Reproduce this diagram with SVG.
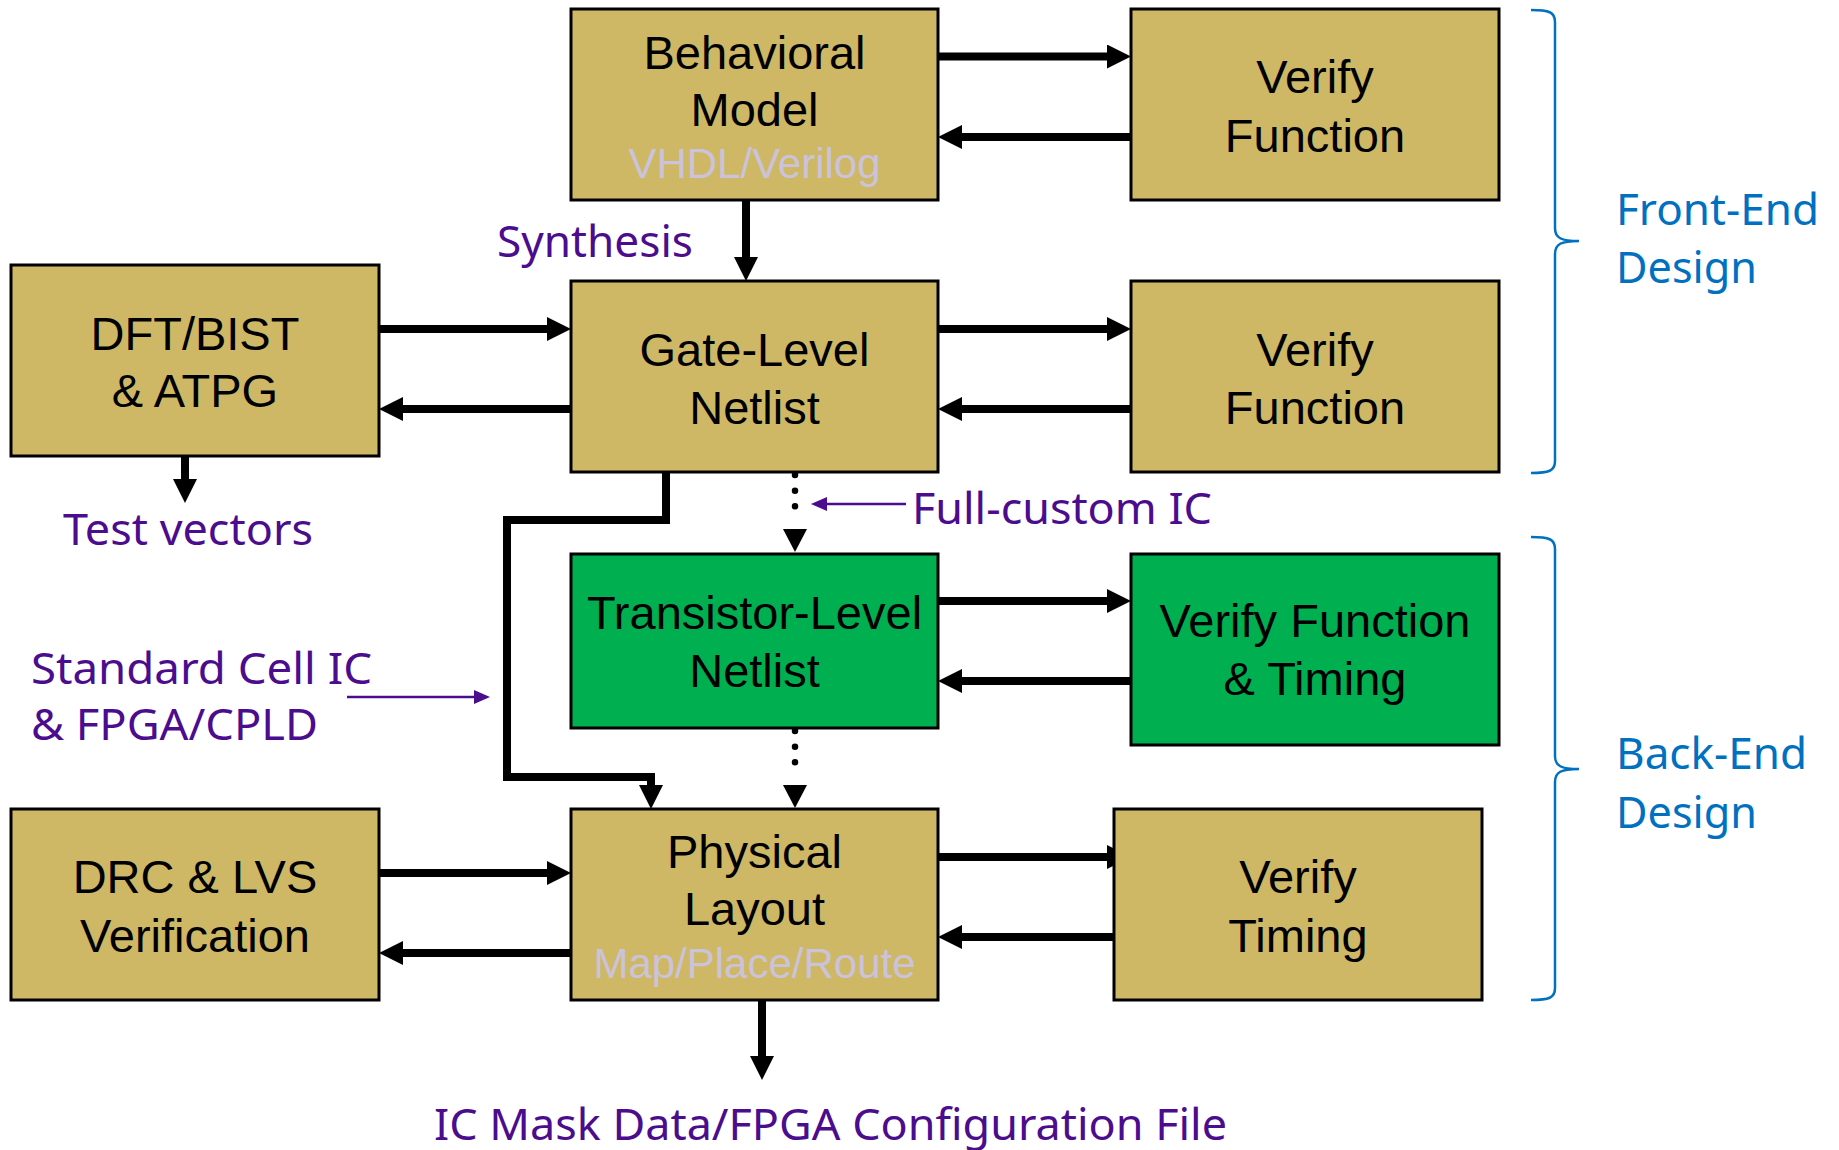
<svg xmlns="http://www.w3.org/2000/svg" width="1839" height="1150" viewBox="0 0 1839 1150">
  <style>
    .box { stroke: #000; stroke-width: 3; }
    .tan { fill: #CEB866; }
    .green { fill: #00AF50; }
    .t { font-family: "Liberation Sans", Arial, sans-serif; font-size: 47px; fill: #000; text-anchor: middle; }
    .sub { font-family: "Liberation Sans", Arial, sans-serif; font-size: 42px; fill: #CBC3DA; text-anchor: middle; }
    .note { font-family: "Noto Sans", "Open Sans", sans-serif; font-size: 44px; fill: #4B0C8E; }
    .phase { font-family: "Noto Sans", "Open Sans", sans-serif; font-size: 44px; fill: #0070C0; }
    .flow { fill: none; stroke: #000; stroke-width: 8; marker-end: url(#arrow); }
    .dots { fill: none; stroke: #000; stroke-width: 6.5; stroke-linecap: round; stroke-dasharray: 0 15.67; marker-end: url(#dotHead); }
    .thin { fill: none; stroke: #4B0C8E; stroke-width: 2.5; marker-end: url(#thinHead); }
    .brace { fill: none; stroke: #0070C0; stroke-width: 2.5; }
  </style>
  <defs>
    <marker id="arrow" markerUnits="userSpaceOnUse" markerWidth="24" markerHeight="24" refX="6" refY="12" orient="auto">
      <path d="M0,0 L24,12 L0,24 Z" fill="#000"/>
    </marker>
    <marker id="dotHead" markerUnits="userSpaceOnUse" markerWidth="23" markerHeight="24" refX="-7" refY="12" orient="auto">
      <path d="M0,0 L23,12 L0,24 Z" fill="#000"/>
    </marker>
    <marker id="thinHead" markerUnits="userSpaceOnUse" markerWidth="16" markerHeight="14" refX="12" refY="7" orient="auto">
      <path d="M0,0 L16,7 L0,14 Z" fill="#4B0C8E"/>
    </marker>
  </defs>

  <rect width="1839" height="1150" fill="#fff"/>

  <!-- connectors -->
  <g id="connectors">
    <path class="flow" d="M938,56.5 H1113"/>
    <path class="flow" d="M1131,137 H956"/>
    <path class="flow" d="M746,200 V263"/>
    <path class="flow" d="M379,329 H553"/>
    <path class="flow" d="M571,409 H397"/>
    <path class="flow" d="M938,329 H1113"/>
    <path class="flow" d="M1131,409 H956"/>
    <path class="flow" d="M185,456 V485"/>
    <path class="dots" d="M795,475 V522"/>
    <path class="flow" d="M938,601 H1113"/>
    <path class="flow" d="M1131,681 H956"/>
    <path class="dots" d="M795,731 V778"/>
    <path class="flow" d="M666,473 V520 H507 V777 H651 V791"/>
    <path class="flow" d="M379,873 H553"/>
    <path class="flow" d="M571,953 H397"/>
    <path class="flow" d="M938,857 H1113"/>
    <path class="flow" d="M1114,937 H956"/>
    <path class="flow" d="M762,1000 V1062"/>
    <path class="thin" d="M906,504 H815"/>
    <path class="thin" d="M347,697 H486"/>
  </g>

  <!-- process steps -->
  <g id="behavioral-model">
    <rect class="box tan" x="571" y="9" width="367" height="191"/>
    <text class="t" x="754.5" y="69">Behavioral</text>
    <text class="t" x="754.5" y="126">Model</text>
    <text class="sub" x="754.5" y="178">VHDL/Verilog</text>
  </g>
  <g id="verify-function-1">
    <rect class="box tan" x="1131" y="9" width="368" height="191"/>
    <text class="t" x="1315" y="93">Verify</text>
    <text class="t" x="1315" y="152">Function</text>
  </g>
  <g id="dft-bist">
    <rect class="box tan" x="11" y="265" width="368" height="191"/>
    <text class="t" x="195" y="350">DFT/BIST</text>
    <text class="t" x="195" y="407">&amp; ATPG</text>
  </g>
  <g id="gate-level-netlist">
    <rect class="box tan" x="571" y="281" width="367" height="191"/>
    <text class="t" x="754.5" y="366">Gate-Level</text>
    <text class="t" x="754.5" y="424">Netlist</text>
  </g>
  <g id="verify-function-2">
    <rect class="box tan" x="1131" y="281" width="368" height="191"/>
    <text class="t" x="1315" y="366">Verify</text>
    <text class="t" x="1315" y="424">Function</text>
  </g>
  <g id="transistor-level-netlist">
    <rect class="box green" x="571" y="554" width="367" height="174"/>
    <text class="t" x="754.5" y="629">Transistor-Level</text>
    <text class="t" x="754.5" y="687">Netlist</text>
  </g>
  <g id="verify-function-timing">
    <rect class="box green" x="1131" y="554" width="368" height="191"/>
    <text class="t" x="1315" y="637">Verify Function</text>
    <text class="t" x="1315" y="695">&amp; Timing</text>
  </g>
  <g id="drc-lvs">
    <rect class="box tan" x="11" y="809" width="368" height="191"/>
    <text class="t" x="195" y="893">DRC &amp; LVS</text>
    <text class="t" x="195" y="952">Verification</text>
  </g>
  <g id="physical-layout">
    <rect class="box tan" x="571" y="809" width="367" height="191"/>
    <text class="t" x="754.5" y="868">Physical</text>
    <text class="t" x="754.5" y="925">Layout</text>
    <text class="sub" x="754.5" y="978">Map/Place/Route</text>
  </g>
  <g id="verify-timing">
    <rect class="box tan" x="1114" y="809" width="368" height="191"/>
    <text class="t" x="1298" y="893">Verify</text>
    <text class="t" x="1298" y="952">Timing</text>
  </g>

  <!-- flow annotations -->
  <g id="annotations">
    <text class="note" x="497" y="257" textLength="196" lengthAdjust="spacingAndGlyphs">Synthesis</text>
    <text class="note" x="63" y="545" textLength="250" lengthAdjust="spacingAndGlyphs">Test vectors</text>
    <text class="note" x="912" y="524" textLength="300" lengthAdjust="spacingAndGlyphs">Full-custom IC</text>
    <text class="note" x="31" y="684" textLength="341" lengthAdjust="spacingAndGlyphs">Standard Cell IC</text>
    <text class="note" x="31" y="740" textLength="287" lengthAdjust="spacingAndGlyphs">&amp; FPGA/CPLD</text>
    <text class="note" x="434" y="1140" textLength="793" lengthAdjust="spacingAndGlyphs">IC Mask Data/FPGA Configuration File</text>
  </g>

  <!-- design phase brackets -->
  <g id="front-end">
    <path class="brace" d="M1531,10 C1549,10 1555,12 1555,22 V228 C1555,238 1561,241 1579,241 C1561,241 1555,244 1555,254 V461 C1555,471 1549,473 1531,473"/>
    <text class="phase" x="1616" y="225" textLength="203" lengthAdjust="spacingAndGlyphs">Front-End</text>
    <text class="phase" x="1616" y="283" textLength="141" lengthAdjust="spacingAndGlyphs">Design</text>
  </g>
  <g id="back-end">
    <path class="brace" d="M1531,537 C1549,537 1555,539 1555,549 V756 C1555,766 1561,769 1579,769 C1561,769 1555,772 1555,782 V988 C1555,998 1549,1000 1531,1000"/>
    <text class="phase" x="1616" y="769" textLength="191" lengthAdjust="spacingAndGlyphs">Back-End</text>
    <text class="phase" x="1616" y="828" textLength="141" lengthAdjust="spacingAndGlyphs">Design</text>
  </g>
</svg>
